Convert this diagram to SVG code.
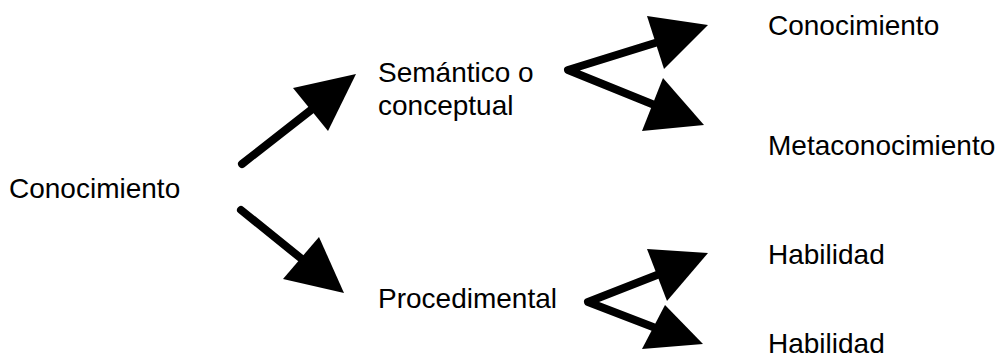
<svg xmlns="http://www.w3.org/2000/svg" width="1006" height="355" viewBox="0 0 1006 355">
<style>
.t{font-family:"Liberation Sans",Arial,sans-serif;font-size:28px;fill:#000}
.c{fill:none;stroke:#000;stroke-width:8;stroke-linecap:round;stroke-linejoin:round}
.h{fill:#000;stroke:none}
</style>
<rect width="1006" height="355" fill="#fff"/>
<g id="connectors">
<line class="c" x1="242" y1="164" x2="311" y2="110"/>
<polygon class="h" points="293,88 356,74 328,131"/>
<line class="c" x1="241" y1="210" x2="303" y2="260"/>
<polygon class="h" points="319,237 344,293 283,279"/>
<polyline class="c" points="655,43 568,70 652,104"/>
<polygon class="h" points="647,16 708,25 664,69"/>
<polygon class="h" points="663,78 704,125 642,131"/>
<polyline class="c" points="657,275 588,302 653,327"/>
<polygon class="h" points="647,249 708,253 667,301"/>
<polygon class="h" points="665,305 703,344 642,349"/>
</g>
<g id="n-root"><text class="t" x="9" y="198">Conocimiento</text></g>
<g id="n-semantico"><text class="t" x="378" y="82">Semántico o</text><text class="t" x="378" y="115">conceptual</text></g>
<g id="n-procedimental"><text class="t" x="378" y="308">Procedimental</text></g>
<g id="n-conocimiento2"><text class="t" x="768" y="35">Conocimiento</text></g>
<g id="n-meta"><text class="t" x="768" y="155">Metaconocimiento</text></g>
<g id="n-hab1"><text class="t" x="768" y="264">Habilidad</text></g>
<g id="n-hab2"><text class="t" x="768" y="353">Habilidad</text></g>
</svg>
